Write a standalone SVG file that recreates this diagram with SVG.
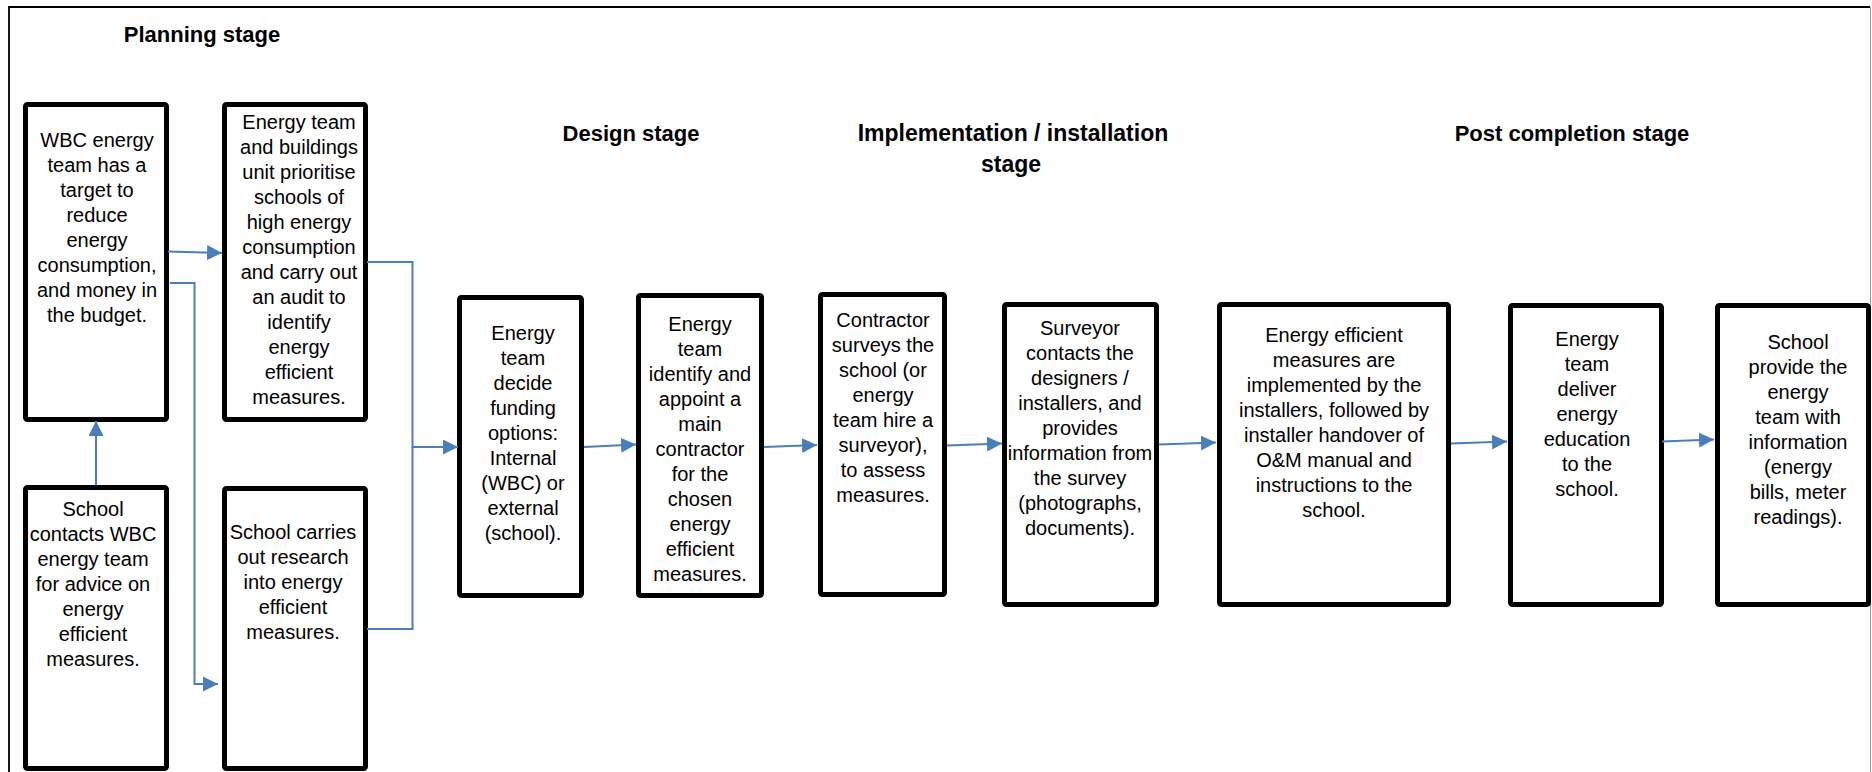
<svg xmlns="http://www.w3.org/2000/svg" width="1872" height="772" viewBox="0 0 1872 772">
<defs>
<style>
.box{fill:#fff;stroke:#000;stroke-width:5;}
.t{font-family:"Liberation Sans",Arial,sans-serif;font-size:20px;fill:#000;text-anchor:middle;}
.h{font-family:"Liberation Sans",Arial,sans-serif;font-size:22px;font-weight:bold;fill:#000;text-anchor:middle;}
.c{fill:none;stroke:#4A7EBB;stroke-width:2;}
</style>
<marker id="arr" markerUnits="userSpaceOnUse" markerWidth="16" markerHeight="16" refX="15" refY="7.5" orient="auto">
<path d="M0,0 L15,7.5 L0,15 z" fill="#4A7EBB"/>
</marker>
</defs>
<rect width="1872" height="772" fill="#fff"/>
<g id="frame">
<path d="M9,772 V7 H1870" fill="none" stroke="#000" stroke-width="1.8"/>
<path d="M1870.5,7 V772" fill="none" stroke="#999" stroke-width="1"/>
</g>
<g id="headings">
<text class="h" x="202" y="42">Planning stage</text>
<text class="h" x="631" y="141">Design stage</text>
<text class="h" x="1013" y="141" style="font-size:23px">Implementation / installation</text>
<text class="h" x="1011" y="172" style="font-size:23px">stage</text>
<text class="h" x="1572" y="141">Post completion stage</text>
</g>
<g id="n1">
<rect class="box" x="25.5" y="104.5" width="141" height="315" rx="2"/>
<text class="t" y="147"><tspan x="97">WBC energy</tspan><tspan x="97" dy="25">team has a</tspan><tspan x="97" dy="25">target to</tspan><tspan x="97" dy="25">reduce</tspan><tspan x="97" dy="25">energy</tspan><tspan x="97" dy="25">consumption,</tspan><tspan x="97" dy="25">and money in</tspan><tspan x="97" dy="25">the budget.</tspan></text>
</g>
<g id="n2">
<rect class="box" x="224.5" y="104.5" width="141" height="315" rx="2"/>
<text class="t" y="129"><tspan x="299">Energy team</tspan><tspan x="299" dy="25">and buildings</tspan><tspan x="299" dy="25">unit prioritise</tspan><tspan x="299" dy="25">schools of</tspan><tspan x="299" dy="25">high energy</tspan><tspan x="299" dy="25">consumption</tspan><tspan x="299" dy="25">and carry out</tspan><tspan x="299" dy="25">an audit to</tspan><tspan x="299" dy="25">identify</tspan><tspan x="299" dy="25">energy</tspan><tspan x="299" dy="25">efficient</tspan><tspan x="299" dy="25">measures.</tspan></text>
</g>
<g id="n3">
<rect class="box" x="25.5" y="487.5" width="141" height="281" rx="2"/>
<text class="t" y="516"><tspan x="93">School</tspan><tspan x="93" dy="25">contacts WBC</tspan><tspan x="93" dy="25">energy team</tspan><tspan x="93" dy="25">for advice on</tspan><tspan x="93" dy="25">energy</tspan><tspan x="93" dy="25">efficient</tspan><tspan x="93" dy="25">measures.</tspan></text>
</g>
<g id="n4">
<rect class="box" x="224.5" y="488.5" width="141" height="280" rx="2"/>
<text class="t" y="539"><tspan x="293">School carries</tspan><tspan x="293" dy="25">out research</tspan><tspan x="293" dy="25">into energy</tspan><tspan x="293" dy="25">efficient</tspan><tspan x="293" dy="25">measures.</tspan></text>
</g>
<g id="n5">
<rect class="box" x="459.5" y="297.5" width="122" height="298" rx="2"/>
<text class="t" y="340"><tspan x="523">Energy</tspan><tspan x="523" dy="25">team</tspan><tspan x="523" dy="25">decide</tspan><tspan x="523" dy="25">funding</tspan><tspan x="523" dy="25">options:</tspan><tspan x="523" dy="25">Internal</tspan><tspan x="523" dy="25">(WBC) or</tspan><tspan x="523" dy="25">external</tspan><tspan x="523" dy="25">(school).</tspan></text>
</g>
<g id="n6">
<rect class="box" x="638.5" y="295.5" width="123" height="300" rx="2"/>
<text class="t" y="331"><tspan x="700">Energy</tspan><tspan x="700" dy="25">team</tspan><tspan x="700" dy="25">identify and</tspan><tspan x="700" dy="25">appoint a</tspan><tspan x="700" dy="25">main</tspan><tspan x="700" dy="25">contractor</tspan><tspan x="700" dy="25">for the</tspan><tspan x="700" dy="25">chosen</tspan><tspan x="700" dy="25">energy</tspan><tspan x="700" dy="25">efficient</tspan><tspan x="700" dy="25">measures.</tspan></text>
</g>
<g id="n7">
<rect class="box" x="820.5" y="294.5" width="124" height="300" rx="2"/>
<text class="t" y="327"><tspan x="883">Contractor</tspan><tspan x="883" dy="25">surveys the</tspan><tspan x="883" dy="25">school (or</tspan><tspan x="883" dy="25">energy</tspan><tspan x="883" dy="25">team hire a</tspan><tspan x="883" dy="25">surveyor),</tspan><tspan x="883" dy="25">to assess</tspan><tspan x="883" dy="25">measures.</tspan></text>
</g>
<g id="n8">
<rect class="box" x="1004.5" y="304.5" width="152" height="300" rx="2"/>
<text class="t" y="335"><tspan x="1080">Surveyor</tspan><tspan x="1080" dy="25">contacts the</tspan><tspan x="1080" dy="25">designers /</tspan><tspan x="1080" dy="25">installers, and</tspan><tspan x="1080" dy="25">provides</tspan><tspan x="1080" dy="25">information from</tspan><tspan x="1080" dy="25">the survey</tspan><tspan x="1080" dy="25">(photographs,</tspan><tspan x="1080" dy="25">documents).</tspan></text>
</g>
<g id="n9">
<rect class="box" x="1219.5" y="304.5" width="229" height="300" rx="2"/>
<text class="t" y="342"><tspan x="1334">Energy efficient</tspan><tspan x="1334" dy="25">measures are</tspan><tspan x="1334" dy="25">implemented by the</tspan><tspan x="1334" dy="25">installers, followed by</tspan><tspan x="1334" dy="25">installer handover of</tspan><tspan x="1334" dy="25">O&amp;M manual and</tspan><tspan x="1334" dy="25">instructions to the</tspan><tspan x="1334" dy="25">school.</tspan></text>
</g>
<g id="n10">
<rect class="box" x="1510.5" y="305.5" width="151" height="299" rx="2"/>
<text class="t" y="346"><tspan x="1587">Energy</tspan><tspan x="1587" dy="25">team</tspan><tspan x="1587" dy="25">deliver</tspan><tspan x="1587" dy="25">energy</tspan><tspan x="1587" dy="25">education</tspan><tspan x="1587" dy="25">to the</tspan><tspan x="1587" dy="25">school.</tspan></text>
</g>
<g id="n11">
<rect class="box" x="1717.5" y="305.5" width="151" height="299" rx="2"/>
<text class="t" y="349"><tspan x="1798">School</tspan><tspan x="1798" dy="25">provide the</tspan><tspan x="1798" dy="25">energy</tspan><tspan x="1798" dy="25">team with</tspan><tspan x="1798" dy="25">information</tspan><tspan x="1798" dy="25">(energy</tspan><tspan x="1798" dy="25">bills, meter</tspan><tspan x="1798" dy="25">readings).</tspan></text>
</g>
<g id="connectors">
<path class="c" d="M168,251.5 L222,253" marker-end="url(#arr)"/>
<path class="c" d="M170,283 H194.5 V684 H218" marker-end="url(#arr)"/>
<path class="c" d="M96,485 V421" marker-end="url(#arr)"/>
<path class="c" d="M367,262 H412.5 V447 H458" marker-end="url(#arr)"/>
<path class="c" d="M367,629 H412.5 V447"/>
<path class="c" d="M584,447 L636,444.5" marker-end="url(#arr)"/>
<path class="c" d="M764,447 L817,445" marker-end="url(#arr)"/>
<path class="c" d="M947,445.5 L1002,443.5" marker-end="url(#arr)"/>
<path class="c" d="M1159,444.5 L1216,442.5" marker-end="url(#arr)"/>
<path class="c" d="M1451,443.5 L1507,441.5" marker-end="url(#arr)"/>
<path class="c" d="M1662,441.5 L1714,439.5" marker-end="url(#arr)"/>
</g>
</svg>
